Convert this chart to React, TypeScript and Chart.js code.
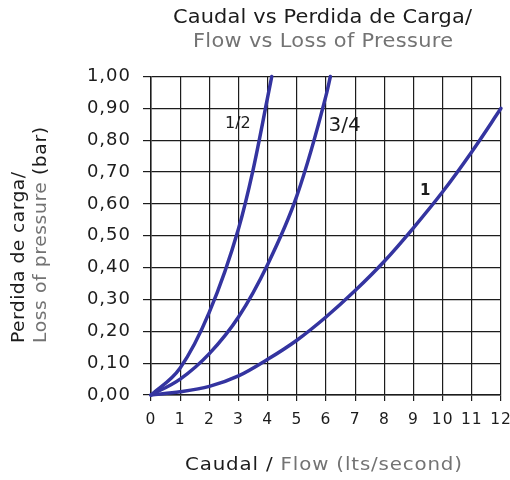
import React, { useEffect, useRef } from "react";
import { Chart, registerables } from "chart.js";

Chart.register(...registerables);

// ---- data ----
const SERIES_NAMES = ["1/2", "3/4", "1"];

const HALF_X = [0, 1, 2, 3, 3.5, 4, 4.14];
const HALF_Y = [0, 0.085, 0.26, 0.522, 0.707, 0.935, 1.0];

const THREE_Q_X = [0, 1, 2, 3, 4, 5, 6, 6.15];
const THREE_Q_Y = [0, 0.05, 0.13, 0.245, 0.41, 0.625, 0.94, 1.0];

const ONE_X = [0, 1, 2, 3, 4, 5, 6, 7, 8, 9, 10, 11, 12];
const ONE_Y = [0, 0.01, 0.027, 0.06, 0.112, 0.172, 0.245, 0.328, 0.42, 0.525, 0.638, 0.764, 0.9];

// curve label anchor positions (data units)
const LABEL_X = [2.98, 6.64, 9.4];
const LABEL_Y = [0.85, 0.845, 0.64];

const X_MIN = 0;
const X_MAX = 12;
const X_STEP = 1;
const Y_MIN = 0;
const Y_MAX = 1;
const Y_STEP = 0.1;

const TITLE_1 = "Caudal vs Perdida de Carga/";
const TITLE_2 = "Flow vs Loss of Pressure";
const Y_TITLE_1 = "Perdida de carga/";
const Y_TITLE_2A = "Loss of pressure ";
const Y_TITLE_2B = "(bar)";
const X_TITLE_A = "Caudal / ";
const X_TITLE_B = "Flow (lts/second)";

const FONT = "'DejaVu Sans', 'Noto Sans', sans-serif";
const BLACK = "#1c1c1c";
const GRAY = "#737373";
const BLUE = "#3434a0";

const toPoints = (xs: number[], ys: number[]) => xs.map((x, i) => ({ x, y: ys[i] }));

// draw a run of coloured segments so the whole run has a target width
// (glyphs are widened slightly, the rest is made up with letter spacing)
function drawRun(
  ctx: any,
  parts: { text: string; color: string }[],
  startX: number,
  y: number,
  targetWidth: number
) {
  ctx.save();
  ctx.letterSpacing = "0px";
  const full = parts.map((p) => p.text).join("");
  const w = ctx.measureText(full).width;
  const s = Math.max(1, Math.min(targetWidth / w, 1.1));
  const n = Math.max(full.length - 1, 1);
  const sp = (targetWidth / s - w) / n;
  ctx.translate(startX, y);
  ctx.scale(s, 1);
  ctx.letterSpacing = `${sp}px`;
  let x = 0;
  parts.forEach((p) => {
    ctx.fillStyle = p.color;
    ctx.fillText(p.text, x, 0);
    x += ctx.measureText(p.text).width;
  });
  ctx.restore();
}

const spacingPlugin = {
  id: "tickSpacing",
  beforeDraw(chart: any) {
    chart.ctx.letterSpacing = "1px";
  },
  afterDatasetsDraw(chart: any) {
    chart.ctx.letterSpacing = "0px";
  },
};

const overlayPlugin = {
  id: "overlayText",
  afterDraw(chart: any) {
    const ctx: any = chart.ctx;
    const xs = chart.scales.x;
    const ys = chart.scales.y;
    ctx.save();
    ctx.letterSpacing = "0px";
    ctx.textBaseline = "middle";
    ctx.textAlign = "left";

    // titles
    ctx.font = `19px ${FONT}`;
    drawRun(ctx, [{ text: TITLE_1, color: BLACK }], 173, 18, 299);
    drawRun(ctx, [{ text: TITLE_2, color: GRAY }], 193, 42, 260);

    // curve labels
    ctx.textAlign = "center";
    ctx.fillStyle = BLACK;
    const sizes = [16, 20, 15];
    SERIES_NAMES.forEach((name, i) => {
      ctx.font = `${i === 2 ? "bold " : ""}${sizes[i]}px ${FONT}`;
      ctx.fillText(name, xs.getPixelForValue(LABEL_X[i]), ys.getPixelForValue(LABEL_Y[i]));
    });
    ctx.textAlign = "left";

    // x axis title
    ctx.font = `18px ${FONT}`;
    drawRun(
      ctx,
      [
        { text: X_TITLE_A, color: BLACK },
        { text: X_TITLE_B, color: GRAY },
      ],
      185,
      465,
      277
    );

    // y axis title (rotated)
    ctx.translate(0, 343);
    ctx.rotate(-Math.PI / 2);
    ctx.font = `17px ${FONT}`;
    drawRun(ctx, [{ text: Y_TITLE_1, color: BLACK }], 0, 20, 171);
    drawRun(
      ctx,
      [
        { text: Y_TITLE_2A, color: GRAY },
        { text: Y_TITLE_2B, color: BLACK },
      ],
      0,
      42,
      216
    );
    ctx.restore();
  },
};

export default function App() {
  const ref = useRef<HTMLCanvasElement | null>(null);

  useEffect(() => {
    document.body.style.margin = "0";
    const canvas = ref.current;
    if (!canvas) return;
    const lineDs = (label: string, xs: number[], ys: number[]) => ({
      label,
      data: toPoints(xs, ys),
      borderColor: BLUE,
      backgroundColor: BLUE,
      borderWidth: 3.5,
      pointRadius: 0,
      cubicInterpolationMode: "monotone" as const,
      borderCapStyle: "round" as const,
      borderJoinStyle: "round" as const,
      fill: false,
      clip: 4,
    });
    const chart = new Chart(canvas, {
      type: "line",
      data: {
        datasets: [
          lineDs(SERIES_NAMES[0], HALF_X, HALF_Y),
          lineDs(SERIES_NAMES[1], THREE_Q_X, THREE_Q_Y),
          lineDs(SERIES_NAMES[2], ONE_X, ONE_Y),
        ],
      },
      options: {
        responsive: false,
        animation: false,
        layout: { padding: { left: 0, right: 9, top: 76.5, bottom: 0 } },
        plugins: {
          legend: { display: false },
          tooltip: { enabled: false },
          title: { display: false },
        },
        scales: {
          x: {
            type: "linear",
            min: X_MIN,
            max: X_MAX,
            afterFit: (s: any) => {
              s.height = 85;
              s.paddingLeft = 0;
              s.paddingRight = 0;
            },
            ticks: {
              stepSize: X_STEP,
              color: BLACK,
              padding: 10,
              font: { family: FONT, size: 15.5 },
              maxRotation: 0,
            },
            grid: { color: BLACK, lineWidth: 1.2, tickLength: 6, drawTicks: true },
            border: { color: BLACK, width: 1.5 },
          },
          y: {
            type: "linear",
            min: Y_MIN,
            max: Y_MAX,
            afterFit: (s: any) => {
              s.width = 151;
              s.paddingTop = 0;
              s.paddingBottom = 0;
            },
            ticks: {
              stepSize: Y_STEP,
              color: BLACK,
              padding: 12,
              font: { family: FONT, size: 18 },
              callback: (v: any) => Number(v).toFixed(2).replace(".", ","),
            },
            grid: { color: BLACK, lineWidth: 1.2, tickLength: 8, drawTicks: true },
            border: { color: BLACK, width: 1.5 },
          },
        },
      },
      plugins: [spacingPlugin, overlayPlugin],
    });
    return () => chart.destroy();
  }, []);

  return (
    <div style={{ position: "relative", width: 510, height: 480, background: "#fff" }}>
      <canvas ref={ref} width={510} height={480} />
    </div>
  );
}
